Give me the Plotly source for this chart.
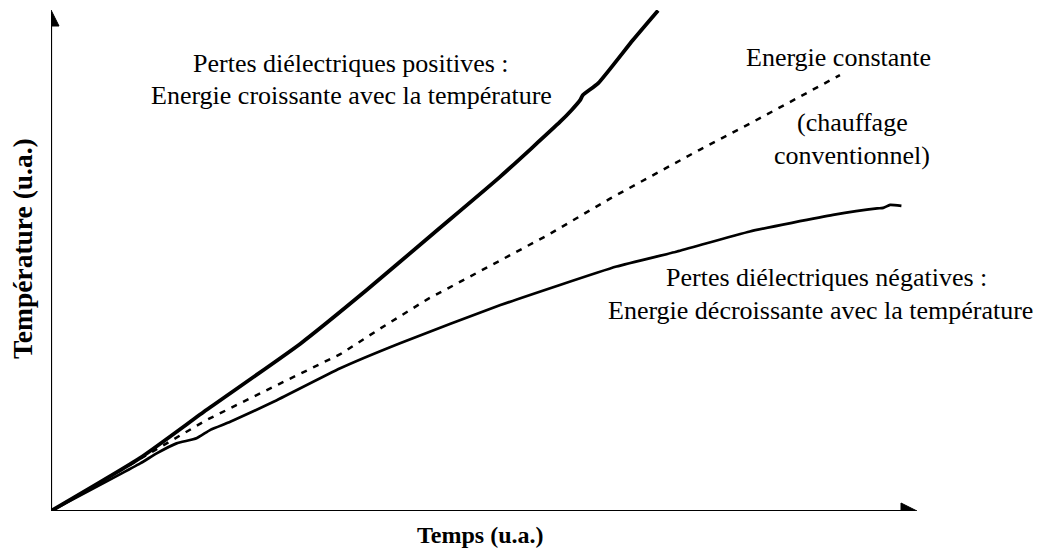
import plotly.graph_objects as go

# Data (arbitrary units, 0..100 on both axes)
temps_pos = [0, 10.3, 17.98, 28.8, 36.45, 44.15, 51.85, 58.8, 60.1, 61.1, 61.4, 63.2, 67.2, 70.1]
temp_pos = [0, 10.6, 20.2, 33.4, 44.1, 55.4, 66.7, 77.7, 80.0, 82.0, 83.0, 85.4, 94.0, 99.9]

temps_const = [0, 18.0, 25.7, 33.4, 38.0, 43.5, 57.4, 64.6, 74.9, 81.1, 91.1]
temp_const = [0, 18.2, 24.8, 31.3, 36.4, 42.3, 55.1, 62.4, 72.1, 77.7, 87.0]

temps_neg = [0, 10.3, 12.2, 14.5, 16.8, 18.4, 20.7, 25.7, 33.4, 40.3, 51.9, 65.3, 72.3, 80.7, 90.3, 95.4, 96.1, 96.9, 98.2]
temp_neg = [0, 9.5, 11.5, 13.5, 14.5, 16.2, 17.8, 21.8, 28.5, 33.5, 41.1, 48.8, 51.8, 55.8, 59.1, 60.4, 60.5, 61.1, 60.9]

# page geometry (the page body has an 8px margin)
OFF = 8
W, H = 1046, 552
PX0, PX1, PY0, PY1 = 51, 917, 10, 511   # plot area in page pixels
L, R, T, B = PX0 - OFF, W - PX1, PY0 - OFF, H - PY1
PW, PH = PX1 - PX0, PY1 - PY0


def pp(px, py):
    return (px - PX0) / PW, (PY1 - py) / PH


FONT = "Liberation Serif, Times New Roman, serif"

fig = go.Figure()
fig.add_trace(go.Scatter(x=temps_pos, y=temp_pos, mode="lines",
                         line=dict(color="black", width=3.8, shape="spline", smoothing=0.5),
                         cliponaxis=False))
fig.add_trace(go.Scatter(x=temps_const, y=temp_const, mode="lines",
                         line=dict(color="black", width=2.5, dash="6px,7px"), cliponaxis=False))
fig.add_trace(go.Scatter(x=temps_neg, y=temp_neg, mode="lines",
                         line=dict(color="black", width=2.7, shape="spline", smoothing=0.4),
                         cliponaxis=False))

# axes with arrows (drawn in axis units)
xu = 100 / PW  # data units per px (x)
yu = 100 / PH
shapes = [
    dict(type="line", xref="x", yref="y", x0=0, y0=0, x1=100 - 12 * xu, y1=0,
         line=dict(color="black", width=2.2)),
    dict(type="line", xref="x", yref="y", x0=0, y0=0, x1=0, y1=100 - 12 * yu,
         line=dict(color="black", width=2.2)),
    dict(type="path", xref="x", yref="y",
         path=f"M {100} 0 L {100 - 16 * xu} {8 * yu} L {100 - 16 * xu} {-8 * yu} Z",
         fillcolor="black", line=dict(color="black", width=1)),
    dict(type="path", xref="x", yref="y",
         path=f"M 0 100 L {8 * xu} {100 - 16 * yu} L {-8 * xu} {100 - 16 * yu} Z",
         fillcolor="black", line=dict(color="black", width=1)),
]

texts = [
    ("Pertes diélectriques positives :", 351, 63, 26, False, 0),
    ("Energie croissante avec la température", 351, 96, 26, False, 0),
    ("Energie constante", 838, 57, 26, False, 0),
    ("(chauffage", 852, 123, 26, False, 0),
    ("conventionnel)", 852, 155, 26, False, 0),
    ("Pertes diélectriques négatives :", 826, 277, 26, False, 0),
    ("Energie décroissante avec la température", 820, 310, 26, False, 0),
    ("Temps (u.a.)", 480, 535, 24, True, 0),
    ("Température (u.a.)", 23, 249, 27.5, True, -90),
]
annotations = []
for txt, px, py, size, bold, ang in texts:
    x, y = pp(px, py)
    annotations.append(dict(
        text=f"<b>{txt}</b>" if bold else txt, x=x, y=y, xref="paper", yref="paper",
        xanchor="center", yanchor="middle", showarrow=False, textangle=ang,
        font=dict(family=FONT, size=size, color="black")))

fig.update_layout(
    width=W - OFF, height=H - OFF,
    margin=dict(l=L, r=R, t=T, b=B, pad=0),
    paper_bgcolor="white", plot_bgcolor="white",
    showlegend=False,
    xaxis=dict(range=[0, 100], visible=False, fixedrange=True),
    yaxis=dict(range=[0, 100], visible=False, fixedrange=True),
    shapes=shapes, annotations=annotations,
)
fig.write_html("out.html")
